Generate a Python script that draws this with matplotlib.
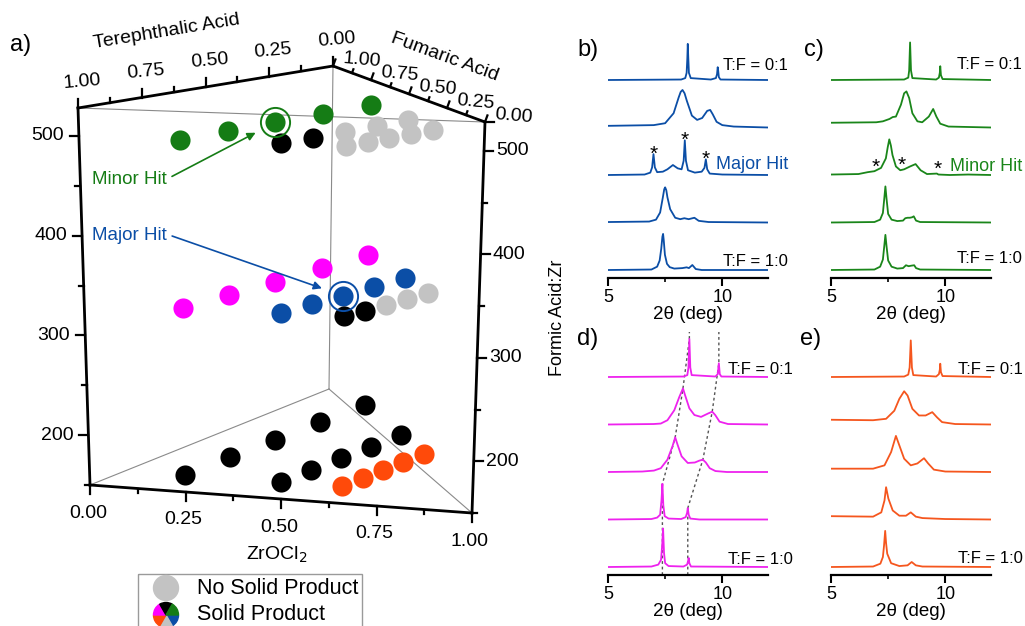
import numpy as np
import matplotlib
matplotlib.use('Agg')
import matplotlib.pyplot as plt
from matplotlib.patches import Rectangle, Circle, Wedge

plt.rcParams['font.family'] = ['Liberation Sans', 'DejaVu Sans']

GREEN = '#157c15'
BLUE = '#0b4ea6'
MAGENTA = '#ff00ff'
ORANGE = '#ff4a0a'
GRAY = '#c3c3c3'
BLACK = '#000000'
code_color = {'g': GREEN, 'b': BLUE, 'm': MAGENTA, 'o': ORANGE, 'n': GRAY, 'k': BLACK}

# ---------------- panel a : synthesis map ----------------
formic_levels = [500, 333, 167]          # Formic Acid:Zr
zr_rows = [0.25, 0.50, 0.66]             # ZrOCl2 fraction
tf_steps = [0.0, 0.25, 0.5, 0.75, 1.0]   # fumaric share of the acid (T:F 1:0 -> 0:1)
outcome = {
    500: ['ggggg', 'kknnn', 'nnnnn'],
    333: ['mmmmm', 'bbbbb', 'kknnn'],
    167: ['kkkkk', 'kkkkk', 'ooooo'],
}
hits = [(500, 0, 2, 'Minor Hit', GREEN), (333, 1, 2, 'Major Hit', BLUE)]
hit_text_pos = {'Minor Hit': (92, 180), 'Major Hit': (92, 235)}

# prism corners in figure pixels (bottom, top) for pure T, pure F, pure ZrOCl2
H_MIN, H_MAX = 150, 528
corner_T = ((90, 485), (78, 108))
corner_F = ((329, 389), (333, 66))
corner_Z = ((472, 513), (485, 122))


def corner(c, h):
    t = (h - H_MIN) / (H_MAX - H_MIN)
    (x0, y0), (x1, y1) = c
    return np.array([x0 + t * (x1 - x0), y0 + t * (y1 - y0)])


def project(zr, f_frac, h):
    f = (1 - zr) * f_frac
    t = (1 - zr) - f
    return t * corner(corner_T, h) + f * corner(corner_F, h) + zr * corner(corner_Z, h)


# ---------------- panels b-e : XRD patterns (bottom T:F=1:0 -> top T:F=0:1) ----------------
xrd_b = [
    ([5, 6.9, 7.15, 7.26, 7.33, 7.38, 7.41, 7.44, 7.49, 7.58, 7.7, 7.9, 8.25, 8.44, 8.54, 8.69, 8.84, 9.1, 12],
     [0, 0.01, 0.07, 0.2, 0.45, 0.7, 0.76, 0.62, 0.32, 0.13, 0.06, 0.03, 0.04, 0.056, 0.04, 0.105, 0.02, 0, 0]),
    ([5, 6.8, 7.1, 7.28, 7.4, 7.46, 7.5, 7.55, 7.6, 7.72, 7.94, 8.16, 8.34, 8.53, 8.78, 8.97, 9.4, 12],
     [0.01, 0.02, 0.06, 0.21, 0.53, 0.7, 0.74, 0.68, 0.53, 0.28, 0.1, 0.07, 0.09, 0.07, 0.1, 0.035, 0.01, 0]),
    ([5, 6.6, 6.85, 6.93, 6.99, 7.05, 7.15, 7.4, 7.6, 7.84, 8.05, 8.22, 8.31, 8.36, 8.41, 8.5, 8.8, 9.1, 9.22,
      9.28, 9.34, 9.45, 10, 12],
     [0, 0.01, 0.05, 0.16, 0.44, 0.16, 0.06, 0.07, 0.12, 0.21, 0.14, 0.12, 0.3, 0.73, 0.3, 0.1, 0.05, 0.07, 0.15,
      0.33, 0.12, 0.03, 0.01, 0]),
    ([5, 7.0, 7.5, 7.87, 8.09, 8.18, 8.26, 8.35, 8.45, 8.67, 8.9, 9.12, 9.34, 9.47, 9.58, 9.75, 10.0, 10.5, 12],
     [0.035, 0.05, 0.09, 0.3, 0.63, 0.75, 0.79, 0.72, 0.56, 0.25, 0.16, 0.2, 0.35, 0.37, 0.28, 0.12, 0.05, 0.02, 0]),
    ([5, 8.2, 8.38, 8.44, 8.47, 8.49, 8.51, 8.54, 8.62, 9.5, 9.72, 9.77, 9.8, 9.82, 9.85, 9.92, 12],
     [0, 0.01, 0.04, 0.15, 0.45, 0.76, 0.5, 0.15, 0.04, 0.01, 0.04, 0.12, 0.27, 0.2, 0.06, 0.01, 0]),
]
xrd_c = [
    ([5, 6.9, 7.15, 7.27, 7.33, 7.38, 7.43, 7.5, 7.65, 7.9, 8.15, 8.28, 8.4, 8.5, 8.64, 8.72, 8.9, 12],
     [0, 0.01, 0.07, 0.22, 0.5, 0.74, 0.5, 0.2, 0.07, 0.03, 0.04, 0.1, 0.08, 0.09, 0.1, 0.04, 0.01, 0]),
    ([5, 6.9, 7.15, 7.27, 7.33, 7.38, 7.43, 7.5, 7.65, 7.9, 8.15, 8.25, 8.35, 8.45, 8.55, 8.62, 8.72, 8.9, 12],
     [0, 0.01, 0.06, 0.2, 0.5, 0.76, 0.5, 0.18, 0.06, 0.03, 0.04, 0.09, 0.1, 0.1, 0.11, 0.13, 0.04, 0.01, 0]),
    ([5, 6.2, 6.61, 6.9, 7.19, 7.4, 7.48, 7.55, 7.62, 7.69, 7.84, 8.03, 8.2, 8.46, 8.7, 8.92, 9.2, 9.63, 9.7,
      10.2, 11, 12],
     [0.01, 0.02, 0.06, 0.08, 0.15, 0.35, 0.58, 0.75, 0.62, 0.42, 0.18, 0.1, 0.12, 0.18, 0.23, 0.1, 0.02, 0.03,
      0.01, 0, 0.01, 0]),
    ([5, 6.98, 7.27, 7.56, 7.7, 7.84, 8.06, 8.2, 8.3, 8.42, 8.56, 8.78, 8.99, 9.28, 9.47, 9.61, 9.78, 10.14, 12],
     [0.1, 0.11, 0.13, 0.18, 0.22, 0.23, 0.48, 0.72, 0.76, 0.62, 0.3, 0.13, 0.11, 0.23, 0.39, 0.23, 0.08, 0.02, 0]),
    ([5, 8.2, 8.38, 8.42, 8.46, 8.5, 8.56, 9.6, 9.72, 9.76, 9.78, 9.81, 9.88, 12],
     [0, 0.01, 0.05, 0.2, 0.79, 0.2, 0.04, 0.01, 0.05, 0.15, 0.29, 0.1, 0.02, 0]),
]
xrd_d = [
    ([5, 6.9, 7.2, 7.32, 7.37, 7.41, 7.45, 7.5, 7.65, 8.3, 8.46, 8.5, 8.53, 8.56, 8.63, 12],
     [0, 0.01, 0.05, 0.15, 0.45, 0.81, 0.3, 0.08, 0.02, 0.01, 0.05, 0.12, 0.19, 0.08, 0.01, 0]),
    ([5, 6.9, 7.15, 7.28, 7.34, 7.38, 7.42, 7.48, 7.65, 8.2, 8.4, 8.46, 8.49, 8.53, 8.6, 9.0, 12],
     [0, 0.01, 0.04, 0.1, 0.4, 0.75, 0.3, 0.07, 0.02, 0.01, 0.05, 0.14, 0.24, 0.1, 0.02, 0, 0]),
    ([5, 6.5, 7.01, 7.31, 7.6, 7.82, 7.94, 8.04, 8.22, 8.49, 8.8, 9.0, 9.15, 9.28, 9.45, 9.7, 10.2, 12],
     [0, 0.01, 0.03, 0.08, 0.26, 0.54, 0.73, 0.58, 0.33, 0.19, 0.2, 0.24, 0.26, 0.2, 0.08, 0.02, 0, 0]),
    ([5, 7.0, 7.31, 7.6, 7.9, 8.12, 8.28, 8.37, 8.56, 8.78, 9.07, 9.37, 9.56, 9.69, 9.88, 10.25, 12],
     [0, 0.01, 0.02, 0.09, 0.3, 0.58, 0.76, 0.62, 0.34, 0.2, 0.16, 0.23, 0.27, 0.2, 0.06, 0.01, 0]),
    ([5, 8.3, 8.47, 8.52, 8.56, 8.6, 8.66, 9.7, 9.8, 9.85, 9.89, 9.96, 12],
     [0, 0.01, 0.04, 0.2, 0.8, 0.2, 0.04, 0.01, 0.06, 0.29, 0.06, 0.01, 0]),
]
xrd_e = [
    ([5, 6.84, 7.16, 7.27, 7.32, 7.37, 7.41, 7.46, 7.63, 7.99, 8.35, 8.53, 8.71, 9.0, 12],
     [0, 0.01, 0.07, 0.21, 0.45, 0.76, 0.5, 0.28, 0.08, 0.02, 0.035, 0.105, 0.035, 0.01, 0]),
    ([5, 6.84, 7.2, 7.34, 7.41, 7.51, 7.7, 7.99, 8.28, 8.49, 8.71, 9.0, 10, 12],
     [0.07, 0.06, 0.15, 0.4, 0.68, 0.44, 0.19, 0.08, 0.08, 0.15, 0.06, 0.03, 0.01, 0]),
    ([5, 6.84, 7.34, 7.63, 7.84, 7.99, 8.2, 8.49, 8.78, 9.07, 9.25, 9.5, 10.0, 12],
     [0.07, 0.07, 0.14, 0.42, 0.76, 0.56, 0.28, 0.14, 0.18, 0.29, 0.18, 0.05, 0.01, 0]),
    ([5, 6.84, 7.41, 7.77, 7.99, 8.2, 8.35, 8.56, 8.85, 9.14, 9.43, 9.64, 9.86, 10.43, 12],
     [0.1, 0.09, 0.12, 0.29, 0.54, 0.7, 0.61, 0.33, 0.19, 0.19, 0.26, 0.15, 0.05, 0.01, 0]),
    ([5, 8.2, 8.38, 8.44, 8.49, 8.54, 8.6, 9.6, 9.72, 9.76, 9.78, 9.81, 9.88, 12],
     [0, 0.01, 0.05, 0.2, 0.77, 0.2, 0.04, 0.01, 0.06, 0.15, 0.28, 0.1, 0.02, 0]),
]

# peak shifts traced in panel d (one point per pattern, bottom -> top)
shift_low_x = [7.38, 7.38, 7.94, 8.28, 8.56]
shift_low_top = [0.81, 0.75, 0.73, 0.76, 0.8]
shift_high_x = [8.49, 8.49, 9.15, 9.56, 9.85]
shift_high_top = [0.19, 0.24, 0.26, 0.27, 0.29]

# starred reflections in the hit patterns (2theta, intensity)
stars_b = [(6.99, 0.44), (8.36, 0.73), (9.28, 0.33)]
stars_c = [(6.94, 0.08), (8.1, 0.11), (9.66, 0.03)]

# ---------------- figure ----------------
fig = plt.figure(figsize=(10.25, 6.26), dpi=100)
ax = fig.add_axes([0, 0, 1, 1])
ax.set_xlim(0, 1025)
ax.set_ylim(626, 0)
ax.axis('off')

thick = dict(color='black', lw=2.0, solid_capstyle='projecting', zorder=4)
thin = dict(color='#8a8a8a', lw=0.8, zorder=1)


def seg(p, q, **kw):
    ax.plot([p[0], q[0]], [p[1], q[1]], **kw)


T0, F0, Z0 = corner(corner_T, H_MIN), corner(corner_F, H_MIN), corner(corner_Z, H_MIN)
T1, F1, Z1 = corner(corner_T, H_MAX), corner(corner_F, H_MAX), corner(corner_Z, H_MAX)
for p, q in [(T1, F1), (F1, Z1), (T0, Z0), (T0, T1), (Z0, Z1)]:
    seg(p, q, **thick)
for p, q in [(T1, Z1), (T0, F0), (F0, Z0), (F0, F1)]:
    seg(p, q, **thin)

tk = dict(color='black', lw=1.6, zorder=4)
fs = 14
# Formic Acid:Zr axes (left and right verticals)
for v in range(150, H_MAX, 50):
    major = v % 100 == 0
    L = 9 if major else 5
    p = project(0, 0, v)
    seg(p, p + (-L, 0), **tk)
    q = project(1, 0, v)
    seg(q, q + (L, 0), **tk)
    if major:
        ax.text(p[0] - L - 6, p[1], str(v), ha='right', va='center', fontsize=fs)
        ax.text(q[0] + L + 3, q[1], str(v), ha='left', va='center', fontsize=fs)

# ZrOCl2 axis (front bottom edge)
for i in range(9):
    z = i / 8
    p = project(z, 0, H_MIN)
    L = 9 if i % 2 == 0 else 4
    seg(p, p + (0, L), **tk)
    if i % 2 == 0:
        ax.text(p[0] - 2, p[1] + 28, f'{z:.2f}', ha='center', va='center', fontsize=fs)

# Terephthalic acid axis (top left edge)
for i in range(9):
    v = i / 8
    p = project(0, 1 - v, H_MAX)
    L = 9 if i % 2 == 0 else 5
    seg(p, p + (0, -L), **tk)
    if i % 2 == 0:
        ax.text(p[0] + 4, p[1] - 26, f'{v:.2f}', ha='center', va='center', fontsize=fs, rotation=5)

# Fumaric acid axis (top right edge)
edge = F1 - Z1
nrm = np.array([-edge[1], edge[0]]) / np.hypot(*edge)
if nrm[1] > 0:
    nrm = -nrm
for i in range(9):
    v = i / 8
    p = project(1 - v, 1.0, H_MAX)
    L = 7 if i % 2 == 0 else 4
    seg(p, p + L * nrm, **tk)
    if i % 2 == 0:
        ax.text(p[0] + 29, p[1] - 6, f'{v:.2f}', ha='center', va='center', fontsize=fs, rotation=-5)
seg(Z1, Z1 + (9, 0), **tk)

ax.text(167, 32, 'Terephthalic Acid', ha='center', va='center', fontsize=fs, rotation=9.3)
ax.text(445, 57, 'Fumaric Acid', ha='center', va='center', fontsize=fs, rotation=-20)
ax.text(277, 555, 'ZrOCl$_2$', ha='center', va='center', fontsize=fs)
ax.text(557, 318, 'Formic Acid:Zr', ha='center', va='center', fontsize=13, rotation=90)
ax.text(21, 45, 'a)', ha='center', va='center', fontsize=17)

# synthesis outcomes
for h in formic_levels:
    for r, zr in enumerate(zr_rows):
        for s, ff in enumerate(tf_steps):
            x, y = project(zr, ff, h)
            ax.scatter(x, y, s=210, color=code_color[outcome[h][r][s]], linewidths=0, zorder=2)

for h, r, s, name, col in hits:
    x, y = project(zr_rows[r], tf_steps[s], h)
    ax.plot(x, y, 'o', ms=21, mfc='none', mec=col, mew=1.4, zorder=3)
    ax.annotate(name, xy=(x, y), xytext=hit_text_pos[name], color=col, fontsize=13.5,
                ha='left', va='center',
                arrowprops=dict(arrowstyle='-|>', color=col, lw=1.2, mutation_scale=12,
                                relpos=(1.0, 0.55), shrinkA=2, shrinkB=16))

# legend
ax.add_patch(Rectangle((138, 574), 224, 70, fill=False, ec='#9a9a9a', lw=1.0, zorder=5))
ax.add_patch(Circle((166, 588), 12.5, color=GRAY, zorder=5))
for k, c in enumerate([BLUE, GRAY, ORANGE, MAGENTA, BLACK, GREEN]):
    ax.add_patch(Wedge((166, 615), 12.5, 60 * k, 60 * (k + 1), color=c, zorder=5))
ax.text(197, 589, 'No Solid Product', ha='left', va='center', fontsize=15.5)
ax.text(197, 614, 'Solid Product', ha='left', va='center', fontsize=15.5)

# ---------------- XRD panels ----------------
SPACING = 47.5   # px between stacked patterns
panels = [
    ('b)', xrd_b, BLUE, (608, 278), (588, 50), 20, (0.21, 0.09), ('Major Hit', 0.12), stars_b, -4),
    ('c)', xrd_c, '#1a861a', (831, 278), (814, 50), 31, (0.23, 0.14), ('Minor Hit', 0.08), stars_c, -1),
    ('d)', xrd_d, '#ee22ee', (608, 575), (588, 339), 25, (0.06, 0.06), None, [], 0),
    ('e)', xrd_e, '#f5561e', (831, 575), (811, 339), 32, (0.07, 0.08), None, [], 0),
]
ylo, yhi = -8 / SPACING, 235 / SPACING
for label, traces, col, (x0, y0), lab_xy, dx, (dy_top, dy_bot), hit, stars, star_dy in panels:
    axp = fig.add_axes([x0 / 1025, (626 - y0) / 626, 160 / 1025, 243 / 626])
    axp.patch.set_alpha(0)
    for level, (xs, ys) in enumerate(traces):
        axp.plot(xs, np.array(ys) + level, color=col, lw=1.3)
    axp.set_xlim(5, 12)
    axp.set_ylim(ylo, yhi)
    for side in ['left', 'right', 'top']:
        axp.spines[side].set_visible(False)
    axp.spines['bottom'].set_linewidth(1.6)
    axp.set_yticks([])
    axp.set_xticks([5, 10])
    axp.set_xticks([7.5], minor=True)
    axp.tick_params(axis='x', which='major', direction='out', length=6, width=1.5, labelsize=13, pad=2)
    axp.tick_params(axis='x', which='minor', direction='out', length=3, width=1.2)
    axp.set_xlabel('2θ (deg)', fontsize=13.5, labelpad=0)

    n = len(traces)
    for text, yy in [('T:F = 0:1', n - 1 + dy_top), ('T:F = 1:0', dy_bot)]:
        axp.annotate(text, xy=(12, yy), xytext=(dx * 0.72, 0), textcoords='offset points',
                     ha='right', va='baseline', fontsize=12, annotation_clip=False)
    if hit is not None:
        axp.annotate(hit[0], xy=(12, 2 + hit[1]), xytext=(dx * 0.72, 0), textcoords='offset points',
                     ha='right', va='baseline', fontsize=13, color=col, annotation_clip=False)
    for sx, sy in stars:
        axp.annotate('*', xy=(sx, 2 + sy), xytext=(0, star_dy), textcoords='offset points',
                     ha='center', va='baseline', fontsize=15, annotation_clip=False)
    if label == 'd)':
        for px, ph in [(shift_low_x, shift_low_top), (shift_high_x, shift_high_top)]:
            xs = [px[0]] + px + [px[-1]]
            ys = [ylo] + [i + h for i, h in enumerate(ph)] + [yhi]
            axp.plot(xs, ys, color='#555555', lw=1.0, ls=(0, (2, 2)), zorder=0)
    ax.text(lab_xy[0], lab_xy[1], label, ha='center', va='center', fontsize=17)

fig.savefig('out.png', dpi=100)
